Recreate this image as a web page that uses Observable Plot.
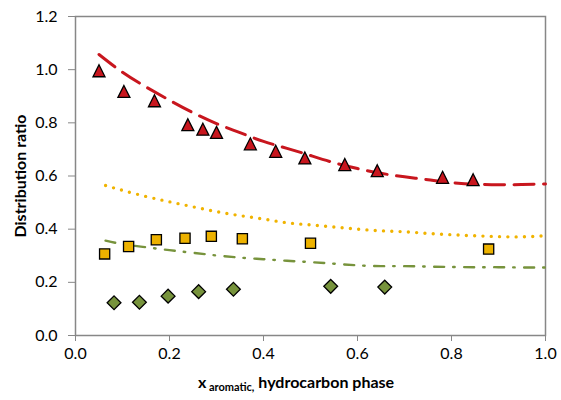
<!DOCTYPE html>
<html>
<head>
<meta charset="utf-8">
<script src="https://cdn.jsdelivr.net/npm/d3@7"></script>
<script src="https://cdn.jsdelivr.net/npm/@observablehq/plot@0.6"></script>
<style>
  html, body { margin: 0; padding: 0; background: #fff; }
  #chart { width: 561px; height: 400px; }
  svg { font-family: Lato, "Open Sans", sans-serif; }
</style>
</head>
<body>
<div id="chart"></div>
<script>
// Measured points (x = aromatic mole fraction, y = distribution ratio)
const triX = [0.050, 0.103, 0.168, 0.239, 0.271, 0.300, 0.372, 0.426, 0.488, 0.573, 0.642, 0.781, 0.846];
const triY = [0.996, 0.918, 0.883, 0.793, 0.776, 0.764, 0.721, 0.693, 0.668, 0.643, 0.620, 0.595, 0.586];

const sqX = [0.062, 0.113, 0.172, 0.233, 0.289, 0.355, 0.500, 0.879];
const sqY = [0.307, 0.335, 0.360, 0.366, 0.373, 0.364, 0.347, 0.325];

const diaX = [0.082, 0.136, 0.197, 0.262, 0.336, 0.543, 0.658];
const diaY = [0.123, 0.125, 0.148, 0.165, 0.174, 0.185, 0.182];

// Model curves
const redX = [0.05, 0.10, 0.15, 0.20, 0.25, 0.30, 0.35, 0.40, 0.45, 0.50, 0.55, 0.60, 0.65, 0.70, 0.75, 0.80, 0.85, 0.90, 0.95, 1.00];
const redY = [1.057, 0.990, 0.935, 0.885, 0.838, 0.797, 0.763, 0.730, 0.704, 0.677, 0.650, 0.628, 0.610, 0.597, 0.586, 0.575, 0.569, 0.567, 0.568, 0.570];

const yelX = [0.064, 0.10, 0.15, 0.20, 0.25, 0.30, 0.35, 0.40, 0.45, 0.50, 0.55, 0.60, 0.65, 0.70, 0.75, 0.80, 0.85, 0.90, 0.95, 1.00];
const yelY = [0.564, 0.546, 0.523, 0.503, 0.484, 0.466, 0.451, 0.438, 0.424, 0.416, 0.408, 0.400, 0.394, 0.390, 0.384, 0.379, 0.375, 0.372, 0.371, 0.375];

const grnX = [0.064, 0.10, 0.15, 0.20, 0.25, 0.30, 0.35, 0.40, 0.45, 0.50, 0.55, 0.60, 0.65, 0.70, 0.75, 0.80, 0.85, 0.90, 0.95, 1.00];
const grnY = [0.357, 0.344, 0.332, 0.321, 0.311, 0.301, 0.293, 0.287, 0.281, 0.276, 0.270, 0.264, 0.261, 0.261, 0.259, 0.258, 0.257, 0.257, 0.256, 0.256];

const xTicks = [0, 0.2, 0.4, 0.6, 0.8, 1.0];
const yTicks = [0, 0.2, 0.4, 0.6, 0.8, 1.0, 1.2];

const pts = (xs, ys) => xs.map((x, i) => ({x, y: ys[i]}));

const triSym = {draw(ctx, size) { const r = Math.sqrt(size / Math.PI);
  ctx.moveTo(0, -r); ctx.lineTo(r, r); ctx.lineTo(-r, r); ctx.closePath(); }};
const sqSym = {draw(ctx, size) { const r = Math.sqrt(size / Math.PI) * 0.85;
  ctx.moveTo(-r, -r); ctx.lineTo(r, -r); ctx.lineTo(r, r); ctx.lineTo(-r, r); ctx.closePath(); }};
const diaSym = {draw(ctx, size) { const r = Math.sqrt(size / Math.PI) * 1.15;
  ctx.moveTo(0, -r); ctx.lineTo(r, 0); ctx.lineTo(0, r); ctx.lineTo(-r, 0); ctx.closePath(); }};

const axisColor = "#878787";

const plot = Plot.plot({
  width: 561,
  height: 400,
  marginLeft: 75,
  marginRight: 16,
  marginTop: 16,
  marginBottom: 65,
  style: {fontFamily: "Lato, 'Open Sans', sans-serif", fontSize: "16px", color: "#000", background: "#fff"},
  x: {domain: [0, 1], ticks: xTicks, tickFormat: d3.format(".1f"), label: null},
  y: {domain: [0, 1.2], ticks: yTicks, tickFormat: d3.format(".1f"), label: null},
  marks: [
    Plot.axisX({ticks: xTicks, tickFormat: d3.format(".1f"), tickSize: 6, tickPadding: 6, stroke: axisColor, fill: "#000", fontSize: 16, label: null}),
    Plot.axisY({ticks: yTicks, tickFormat: d3.format(".1f"), tickSize: 7, tickPadding: 11, stroke: axisColor, fill: "#000", fontSize: 16, label: null}),
    Plot.frame({stroke: axisColor, strokeWidth: 1.5}),
    Plot.line(pts(redX, redY), {x: "x", y: "y", curve: "natural", stroke: "#C8161E", strokeWidth: 3, strokeDasharray: "20 9.5"}),
    Plot.line(pts(yelX, yelY), {x: "x", y: "y", curve: "natural", stroke: "#F0B300", strokeWidth: 3.4, strokeDasharray: "0 8.3", strokeLinecap: "round"}),
    Plot.line(pts(grnX, grnY), {x: "x", y: "y", curve: "natural", stroke: "#77933C", strokeWidth: 2.4, strokeDasharray: "10 9 1.5 9.5", strokeLinecap: "round"}),
    Plot.dot(pts(sqX, sqY), {x: "x", y: "y", symbol: sqSym, r: 6, fill: "#EDB200", stroke: "#000", strokeWidth: 1.3}),
    Plot.dot(pts(diaX, diaY), {x: "x", y: "y", symbol: diaSym, r: 6, fill: "#77933C", stroke: "#000", strokeWidth: 1.3}),
    Plot.dot(pts(triX, triY), {x: "x", y: "y", symbol: triSym, r: 6, fill: "#C8161E", stroke: "#000", strokeWidth: 1.3})
  ]
});

document.getElementById("chart").appendChild(plot);

const svg = d3.select(plot);
// x axis title with subscript
const xt = svg.append("text")
  .attr("x", 296).attr("y", 388)
  .attr("text-anchor", "middle")
  .attr("font-family", "Lato, 'Open Sans', sans-serif")
  .attr("font-weight", "bold").attr("font-size", 16).attr("fill", "#000");
xt.append("tspan").text("x");
xt.append("tspan").attr("font-size", 11).attr("dy", 3).text(" aromatic,");
xt.append("tspan").attr("dy", -3).text(" hydrocarbon phase");

// y axis title
svg.append("text")
  .attr("transform", "translate(26,176) rotate(-90)")
  .attr("text-anchor", "middle")
  .attr("font-family", "Lato, 'Open Sans', sans-serif")
  .attr("font-weight", "bold").attr("font-size", 16).attr("fill", "#000")
  .text("Distribution ratio");
</script>
</body>
</html>
